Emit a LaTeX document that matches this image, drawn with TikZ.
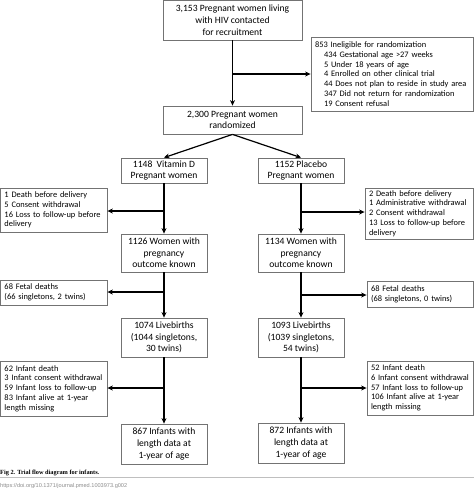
\documentclass[tikz,border=0pt]{standalone}
\usepackage{fontspec}
\setmainfont{Carlito}
\newfontfamily\capfont{Liberation Serif}
\newfontfamily\urlfont{Liberation Sans}
\usetikzlibrary{arrows.meta}
\begin{document}
\begin{tikzpicture}[x=1pt,y=-1pt,
  mainbox/.style={draw=black!55, line width=0.8pt, inner sep=0pt, align=center,
    font=\fontsize{9.6}{11.6}\selectfont, text=black},
  exbox/.style={draw=black!55, line width=0.8pt, inner xsep=4pt, inner ysep=0pt,
    align=left, font=\fontsize{8.4}{9.8}\selectfont, text=black},
  arr/.style={line width=1.2pt, -{Stealth[length=5.5pt,width=5pt]}},
]
\useasboundingbox (0,0) rectangle (474,488);

% main boxes
\node[mainbox, minimum width=139pt, minimum height=39.5pt] (A) at (232.5,20.25)
  {3,153 Pregnant women living\\with HIV contacted\\for recruitment};
\node[mainbox, minimum width=139pt, minimum height=28pt] (R) at (232.5,120)
  {2,300 Pregnant women\\randomized};
\node[mainbox, minimum width=86pt, minimum height=25pt] (V) at (164,170.5)
  {1148\ \ Vitamin D\\Pregnant women};
\node[mainbox, minimum width=86pt, minimum height=25pt] (P) at (301,170.5)
  {1152 Placebo\\Pregnant women};
\node[mainbox, minimum width=86pt, minimum height=38pt] (WV) at (164,253)
  {1126 Women with\\pregnancy\\outcome known};
\node[mainbox, minimum width=86pt, minimum height=38pt] (WP) at (301,253)
  {1134 Women with\\pregnancy\\outcome known};
\node[mainbox, minimum width=86pt, minimum height=39pt] (LV) at (164,337.5)
  {1074 Livebirths\\(1044 singletons,\\30 twins)};
\node[mainbox, minimum width=86pt, minimum height=39pt] (LP) at (301,337.5)
  {1093 Livebirths\\(1039 singletons,\\54 twins)};
\node[mainbox, minimum width=86pt, minimum height=40pt] (FV) at (164,444)
  {867 Infants with\\length data at\\1-year of age};
\node[mainbox, minimum width=86pt, minimum height=40pt] (FP) at (301,443)
  {872 Infants with\\length data at\\1-year of age};

% exclusion boxes
\node[exbox, text width=154pt, minimum height=74pt] (E1) at (392,74)
  {853 Ineligible for randomization\\
   \hspace*{9pt}434 Gestational age >27 weeks\\
   \hspace*{9pt}5 Under 18 years of age\\
   \hspace*{9pt}4 Enrolled on other clinical trial\\
   \hspace*{9pt}44 Does not plan to reside in study area\\
   \hspace*{9pt}347 Did not return for randomization\\
   \hspace*{9pt}19 Consent refusal};
\node[exbox, text width=98.5pt, minimum height=44pt] (EV) at (53.75,210)
  {1 Death before delivery\\5 Consent withdrawal\\16 Loss to follow-up before\\delivery};
\node[exbox, text width=100.5pt, minimum height=51pt] (EP) at (419.25,213.5)
  {2 Death before delivery\\1 Administrative withdrawal\\2 Consent withdrawal\\13 Loss to follow-up before\\delivery};
\node[exbox, text width=98.5pt, minimum height=25pt] (DV) at (53.75,292.5)
  {68 Fetal deaths\\(66 singletons, 2 twins)};
\node[exbox, text width=98.5pt, minimum height=26pt] (DP) at (420.25,294)
  {68 Fetal deaths\\(68 singletons, 0 twins)};
\node[exbox, text width=98.5pt, minimum height=55pt] (IV) at (53.75,388.5)
  {62 Infant death\\3 Infant consent withdrawal\\59 Infant loss to follow-up\\83 Infant alive at 1-year\\length missing};
\node[exbox, text width=98.5pt, minimum height=54pt] (IP) at (420.25,388)
  {52 Infant death\\6 Infant consent withdrawal\\57 Infant loss to follow-up\\106 Infant alive at 1-year\\length missing};

% branch points
\coordinate (b1) at (232.5,74);
\coordinate (bV1) at (164,211);
\coordinate (bP1) at (301,212);
\coordinate (bV2) at (164,292);
\coordinate (bP2) at (301,295);
\coordinate (bV3) at (164,388);
\coordinate (bP3) at (301,388);

% connectors
\draw[arr] (A) -- (R);
\draw[arr] (b1) -- (E1.west |- b1);
\draw[arr] (R.south) -- (V.north);
\draw[arr] (R.south) -- (P.north);
\draw[arr] (V) -- (WV);
\draw[arr] (P) -- (WP);
\draw[arr] (bV1) -- (EV.east |- bV1);
\draw[arr] (bP1) -- (EP.west |- bP1);
\draw[arr] (WV) -- (LV);
\draw[arr] (WP) -- (LP);
\draw[arr] (bV2) -- (DV.east |- bV2);
\draw[arr] (bP2) -- (DP.west |- bP2);
\draw[arr] (LV) -- (FV);
\draw[arr] (LP) -- (FP);
\draw[arr] (bV3) -- (IV.east |- bV3);
\draw[arr] (bP3) -- (IP.west |- bP3);

% caption
\node[anchor=base west, inner sep=0pt, font=\capfont\bfseries\fontsize{6.3}{7}\selectfont] (cap) at (0,474.5)
  {Fig 2. Trial flow diagram for infants.};
\draw[black!25, line width=0.5pt] (0,477.5) -- (474,477.5);
\node[anchor=base west, inner sep=0pt, text=black!45, font=\urlfont\fontsize{5.6}{6}\selectfont] (url) at (0,487.5)
  {https://doi.org/10.1371/journal.pmed.1003973.g002};
\end{tikzpicture}
\end{document}
